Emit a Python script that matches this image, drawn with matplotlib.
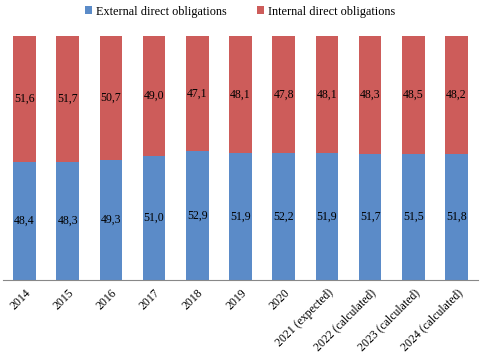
import matplotlib.pyplot as plt
import numpy as np

# data
years = ['2014', '2015', '2016', '2017', '2018', '2019', '2020',
         '2021 (expected)', '2022 (calculated)', '2023 (calculated)', '2024 (calculated)']
external = [48.4, 48.3, 49.3, 51.0, 52.9, 51.9, 52.2, 51.9, 51.7, 51.5, 51.8]
internal = [51.6, 51.7, 50.7, 49.0, 47.1, 48.1, 47.8, 48.1, 48.3, 48.5, 48.2]

plt.rcParams['font.family'] = ['Liberation Serif', 'DejaVu Serif']

fig = plt.figure(figsize=(4.8, 3.57), dpi=100)
ax = fig.add_axes([0.006, 0.216, 0.99, 0.683])

x = np.arange(len(years))
b1 = ax.bar(x, external, width=0.52, color='#5B8BC8', label='External direct obligations')
b2 = ax.bar(x, internal, width=0.52, bottom=external, color='#CD5C5A',
            label='Internal direct obligations')

def fmt(v):
    return f'{v:.1f}'.replace('.', ',')

for i in range(len(years)):
    ax.text(x[i], external[i] / 2, fmt(external[i]), ha='center', va='center', fontsize=8.5)
    ax.text(x[i], external[i] + internal[i] / 2, fmt(internal[i]),
            ha='center', va='center', fontsize=8.5)

ax.set_xlim(-0.5, len(years) - 0.5)
ax.set_ylim(0, 100)
ax.set_yticks([])
ax.set_xticks(x)
ax.set_xticklabels(years, rotation=45, ha='right', rotation_mode='anchor', fontsize=8.5)
ax.tick_params(axis='x', length=0, pad=5)
for s in ['top', 'right', 'left']:
    ax.spines[s].set_visible(False)
ax.spines['bottom'].set_color('#888888')
ax.spines['bottom'].set_linewidth(0.8)

fig.legend(handles=[b1, b2], loc='upper center', bbox_to_anchor=(0.5, 1.015), ncol=2,
           frameon=False, fontsize=8.8, handlelength=0.6, handleheight=0.6,
           columnspacing=2.5, handletextpad=0.3)

plt.savefig('out.png', dpi=100)
